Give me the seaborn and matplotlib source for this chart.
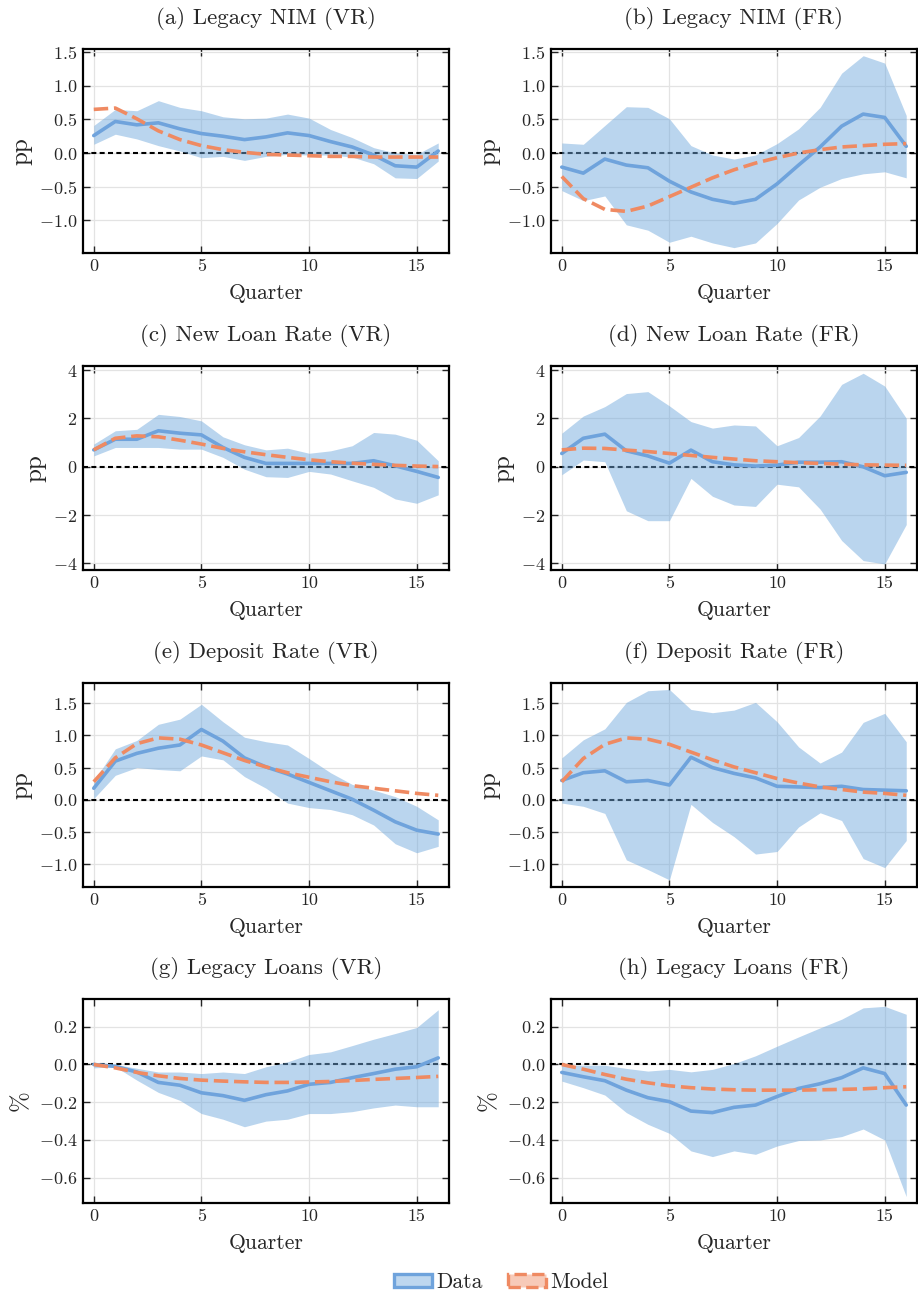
import numpy as np
import pandas as pd
import matplotlib
matplotlib.use("Agg")
import matplotlib.pyplot as plt
from matplotlib.patches import Patch
import seaborn as sns

quarters = list(range(17))

titles = ["(a) Legacy NIM (VR)", "(b) Legacy NIM (FR)",
          "(c) New Loan Rate (VR)", "(d) New Loan Rate (FR)",
          "(e) Deposit Rate (VR)", "(f) Deposit Rate (FR)",
          "(g) Legacy Loans (VR)", "(h) Legacy Loans (FR)"]
ylabels = ["pp", "pp", "pp", "pp", "pp", "pp", "%", "%"]

# (a) Legacy NIM (VR)
a_data = [0.26, 0.47, 0.42, 0.45, 0.36, 0.29, 0.25, 0.20, 0.24, 0.30, 0.26, 0.17, 0.09, -0.03, -0.19, -0.21, 0.03]
a_hi = [0.41, 0.65, 0.63, 0.78, 0.68, 0.63, 0.54, 0.51, 0.52, 0.58, 0.52, 0.35, 0.23, 0.08, 0.00, -0.02, 0.15]
a_lo = [0.13, 0.28, 0.21, 0.11, 0.03, -0.07, -0.05, -0.11, -0.05, -0.02, -0.03, -0.03, -0.06, -0.16, -0.37, -0.38, -0.12]
a_model = [0.65, 0.67, 0.51, 0.33, 0.20, 0.11, 0.05, 0.01, -0.02, -0.03, -0.04, -0.05, -0.05, -0.06, -0.06, -0.06, -0.06]

# (b) Legacy NIM (FR)
b_data = [-0.21, -0.30, -0.09, -0.18, -0.22, -0.42, -0.58, -0.69, -0.75, -0.69, -0.46, -0.18, 0.09, 0.40, 0.58, 0.53, 0.10]
b_hi = [0.15, 0.13, 0.41, 0.69, 0.68, 0.51, 0.11, -0.03, -0.09, -0.03, 0.14, 0.36, 0.68, 1.19, 1.45, 1.34, 0.56]
b_lo = [-0.56, -0.71, -0.64, -1.07, -1.15, -1.33, -1.24, -1.34, -1.41, -1.34, -1.05, -0.70, -0.51, -0.38, -0.31, -0.28, -0.37]
b_model = [-0.35, -0.68, -0.84, -0.87, -0.79, -0.65, -0.51, -0.37, -0.25, -0.15, -0.07, 0.00, 0.05, 0.09, 0.11, 0.13, 0.14]

# (c) New Loan Rate (VR)
c_data = [0.70, 1.14, 1.14, 1.49, 1.39, 1.32, 0.80, 0.39, 0.14, 0.14, 0.14, 0.14, 0.14, 0.25, 0.04, -0.19, -0.44]
c_hi = [0.94, 1.49, 1.55, 2.17, 2.08, 1.90, 1.24, 0.91, 0.70, 0.77, 0.56, 0.66, 0.87, 1.42, 1.35, 1.10, 0.25]
c_lo = [0.45, 0.80, 0.80, 0.80, 0.73, 0.73, 0.39, -0.10, -0.41, -0.44, -0.19, -0.30, -0.58, -0.85, -1.33, -1.51, -1.16]
c_model = [0.70, 1.18, 1.28, 1.24, 1.10, 0.94, 0.76, 0.62, 0.50, 0.39, 0.29, 0.21, 0.15, 0.10, 0.06, 0.03, 0.01]

# (d) New Loan Rate (FR)
d_data = [0.55, 1.18, 1.35, 0.66, 0.45, 0.15, 0.69, 0.21, 0.08, 0.03, 0.07, 0.19, 0.19, 0.21, 0.00, -0.37, -0.23]
d_hi = [1.39, 2.10, 2.49, 3.03, 3.11, 2.52, 1.87, 1.60, 1.73, 1.69, 0.87, 1.21, 2.10, 3.41, 3.87, 3.34, 2.01]
d_lo = [-0.33, 0.28, 0.21, -1.82, -2.23, -2.23, -0.48, -1.22, -1.58, -1.64, -0.72, -0.83, -1.75, -3.05, -3.88, -4.02, -2.39]
d_model = [0.70, 0.77, 0.76, 0.69, 0.63, 0.55, 0.47, 0.39, 0.32, 0.25, 0.21, 0.17, 0.14, 0.11, 0.08, 0.07, 0.06]

# (e) Deposit Rate (VR)
e_data = [0.18, 0.60, 0.72, 0.80, 0.85, 1.09, 0.91, 0.65, 0.51, 0.40, 0.27, 0.14, 0.01, -0.16, -0.34, -0.47, -0.53]
e_hi = [0.29, 0.79, 0.92, 1.17, 1.25, 1.48, 1.21, 0.97, 0.90, 0.85, 0.64, 0.42, 0.24, 0.15, 0.05, -0.10, -0.31]
e_lo = [0.02, 0.38, 0.50, 0.47, 0.45, 0.68, 0.62, 0.36, 0.18, -0.05, -0.12, -0.15, -0.23, -0.39, -0.68, -0.82, -0.72]
e_model = [0.28, 0.65, 0.87, 0.96, 0.94, 0.85, 0.73, 0.61, 0.51, 0.42, 0.35, 0.28, 0.22, 0.18, 0.14, 0.10, 0.07]

# (f) Deposit Rate (FR)
f_data = [0.30, 0.42, 0.45, 0.28, 0.30, 0.23, 0.66, 0.50, 0.41, 0.34, 0.21, 0.20, 0.19, 0.21, 0.16, 0.15, 0.14]
f_hi = [0.65, 0.93, 1.10, 1.51, 1.69, 1.71, 1.40, 1.35, 1.39, 1.51, 1.21, 0.82, 0.57, 0.74, 1.20, 1.34, 0.90]
f_lo = [-0.05, -0.10, -0.21, -0.93, -1.08, -1.24, -0.07, -0.35, -0.57, -0.84, -0.80, -0.42, -0.20, -0.32, -0.91, -1.05, -0.63]
f_model = [0.28, 0.64, 0.86, 0.96, 0.94, 0.86, 0.74, 0.62, 0.51, 0.42, 0.33, 0.26, 0.20, 0.16, 0.12, 0.10, 0.07]

# (g) Legacy Loans (VR)
g_data = [0.0, -0.01, -0.04, -0.095, -0.11, -0.15, -0.165, -0.19, -0.16, -0.14, -0.105, -0.095, -0.07, -0.048, -0.025, -0.012, 0.035]
g_hi = [0.0, 0.0, -0.02, -0.04, -0.04, -0.048, -0.04, -0.048, -0.012, 0.014, 0.053, 0.067, 0.10, 0.134, 0.164, 0.196, 0.29]
g_lo = [-0.018, -0.012, -0.083, -0.148, -0.19, -0.26, -0.29, -0.33, -0.30, -0.29, -0.26, -0.26, -0.25, -0.23, -0.215, -0.224, -0.224]
g_model = [0.0, -0.018, -0.042, -0.06, -0.074, -0.083, -0.088, -0.092, -0.095, -0.095, -0.093, -0.09, -0.085, -0.079, -0.074, -0.069, -0.063]

# (h) Legacy Loans (FR)
h_data = [-0.042, -0.065, -0.086, -0.136, -0.176, -0.197, -0.247, -0.255, -0.227, -0.215, -0.17, -0.127, -0.102, -0.07, -0.018, -0.048, -0.215]
h_hi = [-0.004, -0.004, -0.004, -0.021, -0.035, -0.026, -0.039, -0.026, 0.005, 0.046, 0.097, 0.146, 0.194, 0.24, 0.30, 0.308, 0.266]
h_lo = [-0.088, -0.123, -0.162, -0.255, -0.317, -0.365, -0.458, -0.488, -0.458, -0.476, -0.432, -0.403, -0.40, -0.382, -0.342, -0.40, -0.70]
h_model = [0.0, -0.025, -0.053, -0.078, -0.097, -0.113, -0.123, -0.13, -0.134, -0.136, -0.136, -0.136, -0.134, -0.132, -0.129, -0.123, -0.118]

panels = [
    (a_data, a_lo, a_hi, a_model), (b_data, b_lo, b_hi, b_model),
    (c_data, c_lo, c_hi, c_model), (d_data, d_lo, d_hi, d_model),
    (e_data, e_lo, e_hi, e_model), (f_data, f_lo, f_hi, f_model),
    (g_data, g_lo, g_hi, g_model), (h_data, h_lo, h_hi, h_model),
]

row_ylims = [(-1.49, 1.55), (-4.27, 4.17), (-1.35, 1.81), (-0.734, 0.347)]
row_yticks = [[-1.0, -0.5, 0.0, 0.5, 1.0, 1.5], [-4, -2, 0, 2, 4],
              [-1.0, -0.5, 0.0, 0.5, 1.0, 1.5], [-0.6, -0.4, -0.2, 0.0, 0.2]]
row_fmt = ["{:.1f}", "{:.0f}", "{:.1f}", "{:.1f}"]

sns.set_theme(style="ticks")
plt.rcParams["font.family"] = ["serif"]
plt.rcParams["font.serif"] = ["cmr10", "DejaVu Serif"]
plt.rcParams["mathtext.fontset"] = "cm"
plt.rcParams["axes.formatter.use_mathtext"] = True
plt.rcParams["axes.unicode_minus"] = True

BLUE = "#6fa3dc"
FILL = "#6fa8dc"
ORANGE = "#ef8a62"

fig = plt.figure(figsize=(9.18, 12.96), dpi=100)
lefts = [83 / 918, 551 / 918]
width = 366 / 918
tops = [49, 366, 683, 999]
height = 204 / 1296

for i, (dat, lo, hi, mod) in enumerate(panels):
    r, c = divmod(i, 2)
    ax = fig.add_axes([lefts[c], 1 - (tops[r] + 204) / 1296, width, height])
    df = pd.DataFrame({"Quarter": quarters, "Data": dat, "lo": lo, "hi": hi, "Model": mod})
    ax.grid(True, color="#e3e3e3", linewidth=0.9, zorder=0)
    ax.axhline(0, color="black", linestyle=(0, (2.4, 1.6)), linewidth=1.5, zorder=1)
    ax.fill_between(df["Quarter"], df["lo"], df["hi"], color=FILL, alpha=0.48,
                    linewidth=0, zorder=2)
    sns.lineplot(data=df, x="Quarter", y="Data", ax=ax, color=BLUE, linewidth=2.6,
                 zorder=3, legend=False)
    sns.lineplot(data=df, x="Quarter", y="Model", ax=ax, color=ORANGE, linewidth=2.6,
                 linestyle=(0, (4, 1.6)), zorder=4, legend=False)
    ax.set_xlim(-0.5, 16.5)
    ax.set_ylim(*row_ylims[r])
    ax.set_xticks([0, 5, 10, 15])
    ax.set_xticklabels([str(t) for t in [0, 5, 10, 15]])
    yt = row_yticks[r]
    ax.set_yticks(yt)
    ax.set_yticklabels(["$" + row_fmt[r].format(v) + "$" for v in yt])
    ax.tick_params(direction="in", top=True, right=True, length=5, width=1.0,
                   labelsize=13, pad=4)
    for sp in ax.spines.values():
        sp.set_linewidth(1.6)
        sp.set_color("black")
    ax.set_title(titles[i], fontsize=16.5, pad=18)
    ax.set_xlabel("Quarter", fontsize=15.5, labelpad=7)
    ax.set_ylabel(ylabels[i], fontsize=18, labelpad=5)

handles = [
    Patch(facecolor=(0.435, 0.659, 0.863, 0.45), edgecolor=BLUE, linewidth=2.4, label="Data"),
    Patch(facecolor=(0.937, 0.541, 0.384, 0.45), edgecolor=ORANGE, linewidth=2.4,
          linestyle="--", label="Model"),
]
fig.legend(handles=handles, loc="center", bbox_to_anchor=(0.546, 0.0105), ncol=2,
           frameon=False, fontsize=15.5, handlelength=1.75, handleheight=0.6,
           columnspacing=1.2, handletextpad=0.2)

fig.savefig("out.png", dpi=100)
